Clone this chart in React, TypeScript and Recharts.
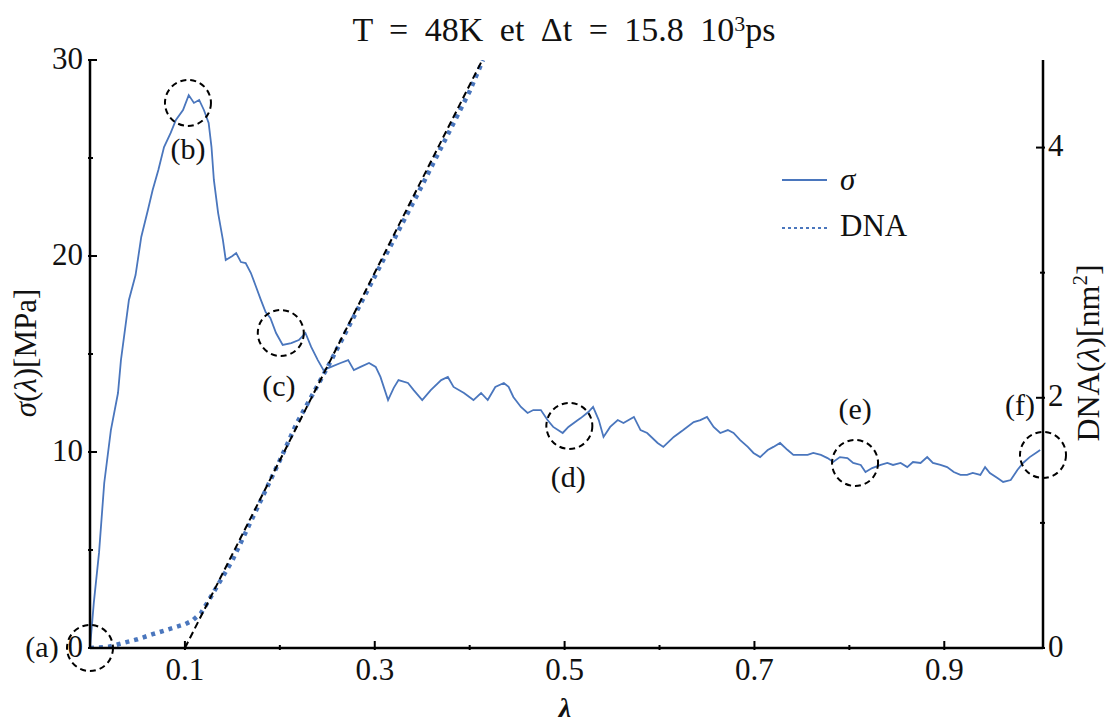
import { ComposedChart, Line, XAxis, YAxis, ReferenceDot, Legend } from "recharts";

const FONT = '"Liberation Serif", "Times New Roman", Times, "DejaVu Serif", "Noto Serif", serif';
const BLUE = "#4a76bd";

// lambda ticks (minor ones have an empty label)
const xTicks = [0.1, 0.2, 0.3, 0.4, 0.5, 0.6, 0.7, 0.8, 0.9];
const xTickLabels = ["0.1", "", "0.3", "", "0.5", "", "0.7", "", "0.9"];
const sigmaTicks = [0, 5, 10, 15, 20, 25, 30];
const sigmaTickLabels = ["0", "", "10", "", "20", "", "30"];
const dnaTicks = [0, 1, 2, 3, 4];
const dnaTickLabels = ["0", "", "2", "", "4"];

// sigma(lambda) in MPa
const sigmaPoints: [number, number][] = [
  [0, 0], [0.004, 2.3], [0.0095, 4.85], [0.015, 8.42], [0.022, 11.12],
  [0.0295, 13.01], [0.0326, 14.69], [0.041, 17.76], [0.048, 19.03], [0.054, 20.97],
  [0.061, 22.35], [0.066, 23.37], [0.072, 24.39], [0.078, 25.56], [0.085, 26.28],
  [0.0905, 26.94], [0.098, 27.45], [0.104, 28.21], [0.1095, 27.81], [0.115, 27.96],
  [0.12, 27.45], [0.125, 26.79], [0.128, 25.56], [0.1305, 23.88], [0.135, 22.19],
  [0.14, 20.82], [0.143, 19.8], [0.15, 20.0], [0.154, 20.15], [0.159, 19.69],
  [0.164, 19.64], [0.1695, 19.13], [0.175, 18.42], [0.18, 17.76], [0.185, 17.14],
  [0.19, 16.84], [0.196, 16.07], [0.203, 15.46], [0.212, 15.56], [0.22, 15.71],
  [0.227, 16.07], [0.233, 15.36], [0.24, 14.69], [0.246, 14.18], [0.254, 14.34],
  [0.264, 14.54], [0.272, 14.69], [0.278, 14.18], [0.285, 14.34], [0.294, 14.54],
  [0.301, 14.34], [0.306, 13.83], [0.314, 12.65], [0.32, 13.27], [0.325, 13.67],
  [0.335, 13.52], [0.341, 13.16], [0.35, 12.65], [0.359, 13.16], [0.37, 13.67],
  [0.377, 13.83], [0.383, 13.32], [0.394, 13.01], [0.404, 12.65], [0.412, 13.01],
  [0.419, 12.65], [0.427, 13.32], [0.436, 13.52], [0.441, 13.32], [0.446, 12.81],
  [0.454, 12.3], [0.461, 11.99], [0.467, 12.14], [0.475, 12.14], [0.482, 11.63],
  [0.488, 11.28], [0.498, 10.97], [0.504, 11.28], [0.514, 11.63], [0.517, 11.73],
  [0.525, 12.04], [0.53, 12.3], [0.536, 11.63], [0.541, 10.77], [0.548, 11.28],
  [0.556, 11.63], [0.562, 11.48], [0.573, 11.79], [0.58, 11.12], [0.587, 10.97],
  [0.598, 10.46], [0.604, 10.26], [0.615, 10.77], [0.625, 11.12], [0.636, 11.53],
  [0.643, 11.63], [0.65, 11.79], [0.657, 11.28], [0.664, 10.97], [0.672, 11.12],
  [0.678, 10.97], [0.685, 10.61], [0.693, 10.26], [0.699, 9.95], [0.706, 9.74],
  [0.714, 10.1], [0.72, 10.26], [0.727, 10.46], [0.735, 10.1], [0.741, 9.85],
  [0.748, 9.85], [0.756, 9.85], [0.762, 9.95], [0.77, 9.85], [0.777, 9.69],
  [0.783, 9.49], [0.79, 9.74], [0.798, 9.69], [0.804, 9.44], [0.812, 9.34],
  [0.817, 8.98], [0.824, 9.18], [0.833, 9.34], [0.84, 9.44], [0.846, 9.34],
  [0.854, 9.44], [0.861, 9.23], [0.867, 9.49], [0.875, 9.44], [0.882, 9.74],
  [0.888, 9.44], [0.896, 9.34], [0.903, 9.23], [0.91, 8.98], [0.917, 8.83],
  [0.924, 8.83], [0.93, 8.93], [0.938, 8.83], [0.943, 9.23], [0.948, 8.93],
  [0.956, 8.67], [0.962, 8.47], [0.97, 8.57], [0.977, 9.08], [0.983, 9.44],
  [0.99, 9.74], [0.998, 10.0], [1.001, 10.1],
];

// DNA(lambda) in nm^2
const dnaPoints: [number, number][] = [
  [0, 0], [0.02, 0.01], [0.03, 0.03], [0.05, 0.07], [0.066, 0.11], [0.087, 0.16],
  [0.1, 0.19], [0.108, 0.22], [0.117, 0.28], [0.125, 0.38], [0.136, 0.52],
  [0.15, 0.7], [0.17, 1.02], [0.2, 1.5], [0.218, 1.8], [0.25, 2.24], [0.3, 2.97],
  [0.35, 3.7], [0.4, 4.45], [0.414, 4.7],
];

// linear fit of the DNA growth
const fitPoints: [number, number][] = [[0.1, 0], [0.4133, 4.7]];

const markers = [
  { label: "(a)", lambda: 0, sigma: 0 },
  { label: "(b)", lambda: 0.1032, sigma: 27.81 },
  { label: "(c)", lambda: 0.201, sigma: 16.07 },
  { label: "(d)", lambda: 0.505, sigma: 11.33 },
  { label: "(e)", lambda: 0.806, sigma: 9.44 },
  { label: "(f)", lambda: 1.004, sigma: 9.85 },
];

const labelOffset: Record<string, [number, number]> = {
  "(a)": [-48, -2],
  "(b)": [0, 46],
  "(c)": [-2, 52],
  "(d)": [-1, 51],
  "(e)": [0, -54],
  "(f)": [-23, -50],
};

const sigmaData = sigmaPoints.map(([x, y]) => ({ x, sigma: y }));
const dnaData = dnaPoints.map(([x, y]) => ({ x, dna: y }));
const fitData = fitPoints.map(([x, y]) => ({ x, fit: y }));

const tickText = { fontFamily: FONT, fontSize: 31, fill: "#111" };

const BottomTick = ({ x, y, index }: any) => {
  const label = xTickLabels[index];
  return (
    <g>
      <line x1={x} x2={x} y1={y} y2={y - (label ? 9 : 5)} stroke="#000" strokeWidth={2} />
      {label && (
        <text x={x} y={y + 19} textAnchor="middle" dominantBaseline="central" {...tickText}>
          {label}
        </text>
      )}
    </g>
  );
};

const TopTick = ({ x, y, index }: any) => (
  <line x1={x} x2={x} y1={y} y2={y + (xTickLabels[index] ? 10 : 6)} stroke="#000" strokeWidth={2} />
);

const LeftTick = ({ x, y, index }: any) => {
  const label = sigmaTickLabels[index];
  return (
    <g>
      <line x1={x} x2={x + (label ? 9 : 5)} y1={y} y2={y} stroke="#000" strokeWidth={2} />
      {label && (
        <text x={x - 5} y={y - 2} textAnchor="end" dominantBaseline="central" {...tickText}>
          {label}
        </text>
      )}
    </g>
  );
};

const RightTick = ({ x, y, index }: any) => {
  const label = dnaTickLabels[index];
  return (
    <g>
      <line x1={x} x2={x - (label ? 9 : 5)} y1={y} y2={y} stroke="#000" strokeWidth={2} />
      {label && (
        <text x={x + 3} y={y - 2} textAnchor="start" dominantBaseline="central" {...tickText}>
          {label}
        </text>
      )}
    </g>
  );
};

const LegendBox = () => (
  <div style={{ fontFamily: FONT, fontSize: 31, color: "#111" }}>
    <div style={{ display: "flex", alignItems: "center", height: 44 }}>
      <svg width={60} height={10}>
        <line x1={2} x2={47} y1={5} y2={5} stroke={BLUE} strokeWidth={2} />
      </svg>
      <span style={{ fontStyle: "italic" }}>σ</span>
    </div>
    <div style={{ display: "flex", alignItems: "center", height: 48 }}>
      <svg width={60} height={10}>
        <line x1={2} x2={47} y1={7} y2={7} stroke={BLUE} strokeWidth={2} strokeDasharray="3 3" />
      </svg>
      <span>DNA</span>
    </div>
  </div>
);

export default function App() {
  return (
    <div style={{ position: "absolute", left: 0, top: 0, width: 1111, height: 724, background: "#fff", overflow: "hidden" }}>
      <ComposedChart width={1111} height={724} margin={{ top: 60, right: 0, bottom: 0, left: 0 }}>
        <XAxis
          dataKey="x"
          type="number"
          domain={[0, 1.004]}
          allowDataOverflow
          ticks={xTicks}
          interval={0}
          height={76}
          tickSize={0}
          tickLine={false}
          tick={<BottomTick />}
          axisLine={{ stroke: "#000", strokeWidth: 2.5 }}
        />
        <XAxis
          xAxisId="top"
          orientation="top"
          dataKey="x"
          type="number"
          domain={[0, 1.004]}
          allowDataOverflow
          ticks={xTicks}
          interval={0}
          height={0}
          tickSize={0}
          tickLine={false}
          tick={<TopTick />}
          axisLine={{ stroke: "#000", strokeWidth: 2.5 }}
        />
        <YAxis
          yAxisId="left"
          type="number"
          domain={[0, 30]}
          allowDataOverflow
          ticks={sigmaTicks}
          interval={0}
          width={90}
          tickSize={0}
          tickLine={false}
          tick={<LeftTick />}
          axisLine={{ stroke: "#000", strokeWidth: 2.5 }}
        />
        <YAxis
          yAxisId="right"
          orientation="right"
          type="number"
          domain={[0, 4.7]}
          allowDataOverflow
          ticks={dnaTicks}
          interval={0}
          width={68}
          tickSize={0}
          tickLine={false}
          tick={<RightTick />}
          axisLine={{ stroke: "#000", strokeWidth: 2.5 }}
        />
        <Legend
          layout="vertical"
          align="center"
          verticalAlign="middle"
          content={<LegendBox />}
          wrapperStyle={{ position: "absolute", left: 780, top: 158, width: 170, height: 92 }}
        />
        <Line
          data={sigmaData}
          yAxisId="left"
          dataKey="sigma"
          name="σ"
          type="linear"
          stroke={BLUE}
          strokeWidth={1.8}
          dot={false}
          isAnimationActive={false}
        />
        <Line
          data={dnaData}
          yAxisId="right"
          dataKey="dna"
          name="DNA"
          type="linear"
          stroke={BLUE}
          strokeWidth={4.5}
          strokeDasharray="4 5"
          dot={false}
          isAnimationActive={false}
        />
        <Line
          data={fitData}
          yAxisId="right"
          dataKey="fit"
          legendType="none"
          type="linear"
          stroke="#000"
          strokeWidth={2}
          strokeDasharray="7 4"
          dot={false}
          isAnimationActive={false}
        />
        {markers.map((m) => (
          <ReferenceDot
            key={m.label}
            yAxisId="left"
            x={m.lambda}
            y={m.sigma}
            r={23}
            shape={(p: any) => {
              const [dx, dy] = labelOffset[m.label];
              return (
                <g>
                  <circle cx={p.cx} cy={p.cy} r={23} fill="none" stroke="#000" strokeWidth={2} strokeDasharray="6 4" />
                  <text
                    x={p.cx + dx}
                    y={p.cy + dy}
                    textAnchor="middle"
                    dominantBaseline="central"
                    fontFamily={FONT}
                    fontSize={30}
                    fill="#111"
                  >
                    {m.label}
                  </text>
                </g>
              );
            }}
          />
        ))}
      </ComposedChart>
      <div
        style={{
          position: "absolute", left: 0, width: 1128, top: 8, textAlign: "center",
          fontFamily: FONT, fontSize: 34, lineHeight: "44px", wordSpacing: 8, color: "#111",
        }}
      >
        T = 48K et Δt = 15.8 10<sup style={{ fontSize: 22, verticalAlign: "10px", lineHeight: 0 }}>3</sup>ps
      </div>
      <div
        style={{
          position: "absolute", left: 26, top: 353, transform: "translate(-50%, -50%) rotate(-90deg)",
          whiteSpace: "nowrap", fontFamily: FONT, fontSize: 31, color: "#111",
        }}
      >
        <i>σ</i>(<i>λ</i>)[MPa]
      </div>
      <div
        style={{
          position: "absolute", left: 1088, top: 353, transform: "translate(-50%, -50%) rotate(-90deg)",
          whiteSpace: "nowrap", fontFamily: FONT, fontSize: 32, color: "#111",
        }}
      >
        DNA(<i>λ</i>)[nm<sup style={{ fontSize: 21, verticalAlign: "12px", lineHeight: 0 }}>2</sup>]
      </div>
      <div
        style={{
          position: "absolute", left: 565, top: 708, transform: "translate(-50%, -50%)",
          fontFamily: FONT, fontSize: 28, lineHeight: "26px", fontStyle: "italic", fontWeight: "bold", color: "#111",
        }}
      >
        λ
      </div>
    </div>
  );
}
